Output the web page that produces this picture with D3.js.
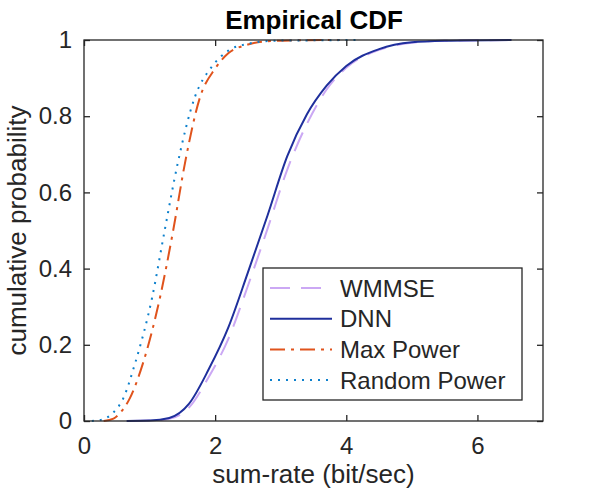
<!DOCTYPE html>
<html>
<head>
<meta charset="utf-8">
<script src="https://cdn.jsdelivr.net/npm/d3@7"></script>
<style>
  body { margin: 0; background: #fff; }
  svg text { font-family: "Liberation Sans", Arial, Helvetica, sans-serif; fill: #262626; }
</style>
</head>
<body>
<div id="chart"></div>
<script>
// values
var xTicks = [0, 2, 4, 6];
var yTicks = [0, 0.2, 0.4, 0.6, 0.8, 1];

var wmmseX = [0.7, 1.0, 1.3, 1.6, 1.9, 2.2, 2.5, 2.8, 3.1, 3.4, 3.7, 4.0, 4.5, 5.0, 5.5, 6.5];
var wmmseP = [0, 0.001, 0.006, 0.035, 0.115, 0.215, 0.355, 0.505, 0.66, 0.78, 0.87, 0.927, 0.974, 0.993, 0.998, 1];

var dnnX = [0.65, 1.0, 1.3, 1.6, 1.9, 2.2, 2.5, 2.8, 3.1, 3.4, 3.7, 4.0, 4.5, 5.0, 5.5, 6.52];
var dnnP = [0, 0.001, 0.008, 0.045, 0.135, 0.245, 0.39, 0.54, 0.695, 0.805, 0.88, 0.932, 0.976, 0.994, 0.998, 1];

var maxX = [0.3, 0.45, 0.55, 0.7, 0.9, 1.16, 1.36, 1.54, 1.77, 2.0, 2.2, 2.5, 2.8, 3.2, 3.9];
var maxP = [0, 0.006, 0.021, 0.06, 0.152, 0.325, 0.5, 0.677, 0.85, 0.925, 0.965, 0.988, 0.997, 0.999, 1];

var randX = [0.12, 0.3, 0.44, 0.6, 0.78, 1.04, 1.23, 1.43, 1.69, 1.95, 2.2, 2.5, 2.9, 3.4, 4.2];
var randP = [0, 0.005, 0.021, 0.06, 0.152, 0.325, 0.5, 0.677, 0.85, 0.93, 0.972, 0.99, 0.998, 0.999, 1];

var series = [
  { name: "WMMSE", xs: wmmseX, ps: wmmseP, color: "#cba8f4", dash: "20,11" },
  { name: "DNN", xs: dnnX, ps: dnnP, color: "#1f2f9c", dash: null },
  { name: "Max Power", xs: maxX, ps: maxP, color: "#e0531c", dash: "15,6,3,6" },
  { name: "Random Power", xs: randX, ps: randP, color: "#0d80cc", dash: "2,6" }
];

var W = 600, H = 496;
var margin = { top: 40, right: 57, bottom: 75, left: 84 };
var iw = W - margin.left - margin.right;
var ih = H - margin.top - margin.bottom;
var axisColor = "#262626";

var svg = d3.select("#chart").append("svg")
    .attr("width", W)
    .attr("height", H);

var g = svg.append("g")
    .attr("transform", "translate(" + margin.left + "," + margin.top + ")");

var x = d3.scaleLinear().domain([0, 7]).range([0, iw]);
var y = d3.scaleLinear().domain([0, 1]).range([ih, 0]);

// curves
var line = d3.line()
    .x(function(d) { return x(d[0]); })
    .y(function(d) { return y(d[1]); })
    .curve(d3.curveMonotoneX);

series.forEach(function(s) {
  var pts = s.xs.map(function(v, i) { return [v, s.ps[i]]; });
  g.append("path")
      .datum(pts)
      .attr("fill", "none")
      .attr("stroke", s.color)
      .attr("stroke-width", 2)
      .attr("stroke-dasharray", s.dash)
      .attr("d", line);
});

// axes, ticks inward like matlab
function styleAxis(sel) {
  sel.select(".domain").remove();
  sel.selectAll(".tick line").attr("stroke", axisColor).attr("stroke-width", 1.3);
  sel.selectAll(".tick text").style("font-size", "24px");
}

var xAxis = g.append("g")
    .attr("transform", "translate(0," + ih + ")")
    .call(d3.axisBottom(x).tickValues(xTicks).tickSize(-6).tickFormat(d3.format("d")))
    .call(styleAxis);
// baseline of the tick numbers
xAxis.selectAll(".tick text").attr("y", 33).attr("dy", null);

g.append("g")
    .call(d3.axisTop(x).tickValues(xTicks).tickSize(-6).tickFormat(""))
    .call(styleAxis);

g.append("g")
    .call(d3.axisLeft(y).tickValues(yTicks).tickSize(-6).tickPadding(12).tickFormat(function(d) { return d3.format("~g")(d); }))
    .call(styleAxis);

g.append("g")
    .attr("transform", "translate(" + iw + ",0)")
    .call(d3.axisRight(y).tickValues(yTicks).tickSize(-6).tickFormat(""))
    .call(styleAxis);

g.append("rect")
    .attr("width", iw)
    .attr("height", ih)
    .attr("fill", "none")
    .attr("stroke", axisColor)
    .attr("stroke-width", 1.3);

// labels
svg.append("text")
    .attr("x", 314)
    .attr("y", 29)
    .attr("text-anchor", "middle")
    .style("font-size", "26px")
    .style("font-weight", "bold")
    .style("fill", "#000")
    .text("Empirical CDF");

svg.append("text")
    .attr("x", margin.left + iw / 2)
    .attr("y", 483)
    .attr("text-anchor", "middle")
    .style("font-size", "26px")
    .text("sum-rate (bit/sec)");

svg.append("text")
    .attr("transform", "translate(26," + (margin.top + ih / 2) + ") rotate(-90)")
    .attr("text-anchor", "middle")
    .style("font-size", "26px")
    .text("cumulative probability");

// legend
var legend = svg.append("g").attr("transform", "translate(263,268)");
legend.append("rect")
    .attr("width", 259)
    .attr("height", 132)
    .attr("fill", "#fff")
    .attr("stroke", axisColor)
    .attr("stroke-width", 1.3);

series.forEach(function(s, i) {
  var ly = 20 + i * 30.7;
  legend.append("line")
      .attr("x1", 7).attr("x2", 69)
      .attr("y1", ly).attr("y2", ly)
      .attr("stroke", s.color)
      .attr("stroke-width", 2)
      .attr("stroke-dasharray", s.dash);
  legend.append("text")
      .attr("x", 77)
      .attr("y", ly)
      .attr("dy", "0.36em")
      .style("font-size", "24px")
      .text(s.name);
});
</script>
</body>
</html>
